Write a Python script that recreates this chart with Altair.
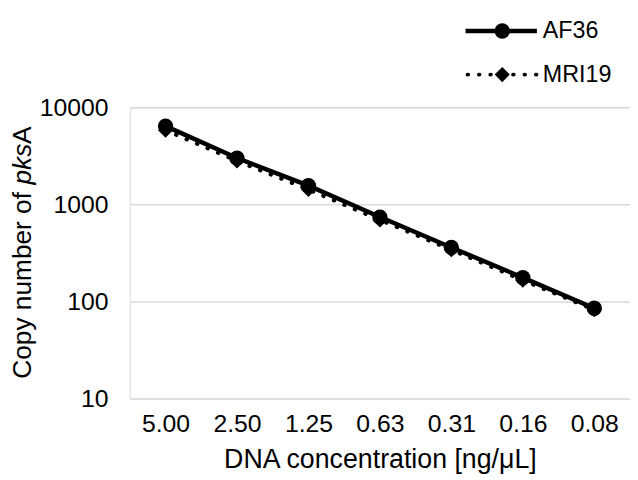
import altair as alt
import pandas as pd

concentrations = ["5.00", "2.50", "1.25", "0.63", "0.31", "0.16", "0.08"]
af36 = [6400, 3000, 1560, 740, 360, 176, 85]
mri19 = [5800, 2800, 1420, 690, 340, 165, 82]

FONT = "Liberation Sans"
W, H = 505, 294

df_af = pd.DataFrame({"conc": concentrations, "copies": af36})
df_mri = pd.DataFrame({"conc": concentrations, "copies": mri19})

x_enc = alt.X("conc:O", sort=concentrations,
              scale=alt.Scale(type="point", padding=0.5),
              axis=alt.Axis(title="DNA concentration [ng/μL]", labelAngle=0,
                            labelFontSize=25, titleFontSize=27, labelFont=FONT,
                            titleFont=FONT, labelColor="#000", titleColor="#000",
                            titleFontWeight="normal", ticks=False, domain=False,
                            labelPadding=13, titlePadding=11, grid=False))
y_enc = alt.Y("copies:Q",
              scale=alt.Scale(type="log", domain=[10, 10000], nice=False),
              axis=alt.Axis(title=None, values=[10, 100, 1000, 10000], format="d",
                            labelFontSize=25, labelFont=FONT, labelColor="#000",
                            ticks=False, domain=False, labelPadding=22,
                            grid=True, gridColor="#d9d9d9", gridWidth=1.5))

mri_line = alt.Chart(df_mri).mark_line(
    color="black", strokeWidth=4, strokeDash=[0.5, 11], strokeCap="round"
).encode(x=x_enc, y=y_enc)
mri_pts = alt.Chart(df_mri).mark_point(
    shape="diamond", filled=True, color="black", size=230, opacity=1
).encode(x=x_enc, y=y_enc)
af_line = alt.Chart(df_af).mark_line(color="black", strokeWidth=4.5).encode(x=x_enc, y=y_enc)
af_pts = alt.Chart(df_af).mark_point(
    shape="circle", filled=True, color="black", size=240, opacity=1
).encode(x=x_enc, y=y_enc)

one = pd.DataFrame({"k": [0]})

def label(txt, x, y, **kw):
    return alt.Chart(pd.DataFrame({"t": [txt]})).mark_text(
        font=FONT, color="black", baseline="middle", align="left", **kw
    ).encode(text="t:N", x=alt.value(x), y=alt.value(y))

# y-axis title with italic "pks"
ytitle = (
    label("Copy number of ", -108, 274, fontSize=26.5, angle=270)
    + label("pks", -108, 78, fontSize=26.5, angle=270, fontStyle="italic")
    + label("A", -108, 37, fontSize=26.5, angle=270)
)

# legend
leg_af_line = alt.Chart(one).mark_rule(color="black", strokeWidth=4.5).encode(
    x=alt.value(339), x2=alt.value(411), y=alt.value(-77))
leg_af_pt = alt.Chart(one).mark_point(shape="circle", filled=True, color="black",
                                      size=240, opacity=1).encode(
    x=alt.value(376), y=alt.value(-77))
leg_mri_line = alt.Chart(one).mark_rule(color="black", strokeWidth=4,
                                        strokeDash=[0.5, 11], strokeCap="round").encode(
    x=alt.value(341), x2=alt.value(411), y=alt.value(-33))
leg_mri_pt = alt.Chart(one).mark_point(shape="diamond", filled=True, color="black",
                                       size=230, opacity=1).encode(
    x=alt.value(376), y=alt.value(-33))
leg_text = label("AF36", 417, -77, fontSize=23.5) + label("MRI19", 417, -33, fontSize=23.5)

chart = alt.layer(
    mri_line, mri_pts, af_line, af_pts, ytitle,
    leg_af_line, leg_af_pt, leg_mri_line, leg_mri_pt, leg_text
).properties(
    width=W, height=H,
    autosize=alt.AutoSizeParams(type="none"),
    padding={"left": 123, "top": 98, "right": 0, "bottom": 76},
).configure_view(stroke=None).configure(background="white")

chart.save("out.html", embed_options={"renderer": "svg", "actions": False})
